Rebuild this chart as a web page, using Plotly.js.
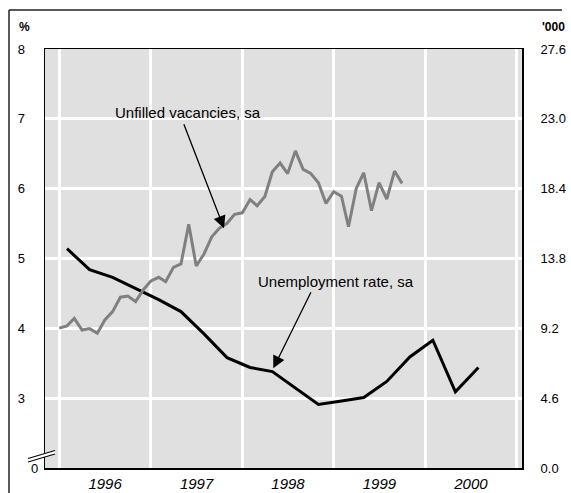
<!DOCTYPE html>
<html><head><meta charset="utf-8">
<script src="https://cdn.plot.ly/plotly-3.0.1.min.js"></script>
<style>html,body{margin:0;padding:0;background:#fff}</style>
</head><body><div id="chart" style="width:571px;height:493px"></div>
<script>
// Unfilled vacancies, sa ('000), monthly from Jan 1996
const vacancyStartYear = 1996;
const vacancyStartMonth = 1;
const vacancies = [9.21, 9.36, 9.86, 9.09, 9.18, 8.88, 9.75, 10.30, 11.25, 11.33, 10.96, 11.73,
                   12.32, 12.56, 12.27, 13.22, 13.44, 16.05, 13.31, 14.10, 15.23, 15.79, 16.12, 16.71,
                   16.81, 17.68, 17.27, 17.88, 19.51, 20.09, 19.39, 20.89, 19.67, 19.41, 18.79, 17.43,
                   18.20, 17.91, 15.89, 18.42, 19.45, 16.95, 18.79, 17.72, 19.56, 18.75];
// Unemployment rate, sa (%), quarterly
const unempDates = ['1996-02-01','1996-05-01','1996-08-01','1996-11-01',
                    '1997-02-01','1997-05-01','1997-08-01','1997-11-01',
                    '1998-02-01','1998-05-01','1998-08-01','1998-11-01',
                    '1999-02-01','1999-05-01','1999-08-01','1999-11-01',
                    '2000-02-01','2000-05-01','2000-08-01'];
const unemployment = [5.14, 4.84, 4.73, 4.57, 4.41, 4.24, 3.92, 3.58, 3.44, 3.38, 3.15, 2.91,
                      2.96, 3.01, 3.24, 3.59, 3.83, 3.09, 3.44];
const leftTickVals = [2, 3, 4, 5, 6, 7, 8];
const leftTickText = ['', '3', '4', '5', '6', '7', '8'];
const rightTickVals = [0, 4.6, 9.2, 13.8, 18.4, 23.0, 27.6];

function pad(n){ return (n < 10 ? '0' : '') + n; }
const vacancyDates = vacancies.map((_, i) => {
  const m = vacancyStartMonth - 1 + i;
  return (vacancyStartYear + Math.floor(m / 12)) + '-' + pad(m % 12 + 1) + '-01';
});

const FONT = 'Arial, "Liberation Sans", Helvetica, sans-serif';
const W = 571, H = 493, L = 45, R = 49, T = 49, B = 25;
const pw = W - L - R, ph = H - T - B;
const px = x => (x - L) / pw;
const py = y => (H - B - y) / ph;

const traces = [
  { x: vacancyDates, y: vacancies, yaxis: 'y2', type: 'scatter', mode: 'lines',
    line: { color: '#808080', width: 3 }, hoverinfo: 'skip' },
  { x: unempDates, y: unemployment, type: 'scatter', mode: 'lines',
    line: { color: '#000000', width: 3 }, hoverinfo: 'skip' }
];

const layout = {
  width: W, height: H,
  margin: { l: L, r: R, t: T, b: B, pad: 0 },
  paper_bgcolor: '#ffffff',
  plot_bgcolor: '#e0e0e0',
  showlegend: false,
  font: { family: FONT, color: '#000', size: 13 },
  xaxis: {
    type: 'date',
    range: ['1995-11-05', '2001-01-22'],
    tick0: '1996-01-01', dtick: 'M12', tickformat: '%Y', ticklabelmode: 'period',
    showgrid: true, gridcolor: '#ffffff', gridwidth: 3,
    showline: true, mirror: true, linecolor: '#000', linewidth: 1.5,
    ticks: 'outside', ticklen: 1, tickcolor: 'rgba(0,0,0,0)',
    tickfont: { size: 15, style: 'italic', family: FONT },
    zeroline: false, fixedrange: true
  },
  yaxis: {
    range: [2, 8], tickvals: leftTickVals, ticktext: leftTickText,
    showgrid: true, gridcolor: '#ffffff', gridwidth: 3,
    showline: true, mirror: true, linecolor: '#000', linewidth: 1.5,
    ticks: 'outside', ticklen: 16, tickcolor: 'rgba(0,0,0,0)',
    tickfont: { size: 13, family: FONT },
    zeroline: false, fixedrange: true
  },
  yaxis2: {
    overlaying: 'y', side: 'right', range: [0, 27.6],
    tickvals: rightTickVals, tickformat: '.1f',
    showgrid: false, zeroline: false, showline: false,
    ticks: 'outside', ticklen: 15, tickcolor: 'rgba(0,0,0,0)',
    tickfont: { size: 13, family: FONT }, fixedrange: true
  },
  annotations: [
    { xref: 'paper', yref: 'paper', x: px(24.5), y: py(27), text: '<b>%</b>', showarrow: false,
      xanchor: 'center', yanchor: 'middle', font: { size: 12 } },
    { xref: 'paper', yref: 'paper', x: px(553), y: py(27), text: "<b>'000</b>", showarrow: false,
      xanchor: 'center', yanchor: 'middle', font: { size: 12 } },
    { xref: 'paper', yref: 'paper', x: px(34), y: py(468), text: '0', showarrow: false,
      xanchor: 'center', yanchor: 'middle', font: { size: 13 } },
    { xref: 'paper', yref: 'paper', x: px(113), y: py(113), text: 'Unfilled vacancies, sa', showarrow: false,
      xanchor: 'left', yanchor: 'middle', font: { size: 15 } },
    { xref: 'paper', yref: 'paper', x: px(256), y: py(281), text: 'Unemployment rate, sa', showarrow: false,
      xanchor: 'left', yanchor: 'middle', font: { size: 15 } },
    { xref: 'paper', yref: 'paper', x: px(224), y: py(228.3), text: '', showarrow: true,
      ax: 183.3 - 224, ay: 122.7 - 228.3, arrowhead: 2, arrowsize: 1.9, arrowwidth: 1.3,
      arrowcolor: '#000', standoff: 0 },
    { xref: 'paper', yref: 'paper', x: px(273.3), y: py(368.3), text: '', showarrow: true,
      ax: 311.7 - 273.3, ay: 290.7 - 368.3, arrowhead: 2, arrowsize: 1.9, arrowwidth: 1.3,
      arrowcolor: '#000', standoff: 0 }
  ],
  shapes: [
    { type: 'line', xref: 'paper', yref: 'paper', x0: px(9), x1: px(562), y0: py(10), y1: py(10),
      line: { color: '#222', width: 1.5 } },
    { type: 'line', xref: 'paper', yref: 'paper', x0: px(9), x1: px(9), y0: py(10), y1: py(493),
      line: { color: '#222', width: 1.5 } },
    { type: 'path', xref: 'paper', yref: 'paper',
      path: 'M' + px(28) + ',' + py(458.5) + ' L' + px(55) + ',' + py(450.5) + ' L' + px(55) + ',' + py(454) + ' L' + px(28) + ',' + py(462) + ' Z',
      fillcolor: '#ffffff', line: { width: 0 } },
    { type: 'line', xref: 'paper', yref: 'paper', x0: px(28), x1: px(55), y0: py(458.5), y1: py(450.5),
      line: { color: '#000', width: 1.1 } },
    { type: 'line', xref: 'paper', yref: 'paper', x0: px(28), x1: px(55), y0: py(462), y1: py(454),
      line: { color: '#000', width: 1.1 } }
  ]
};

Plotly.newPlot('chart', traces, layout, { staticPlot: true, displayModeBar: false });
</script>
</body></html>
